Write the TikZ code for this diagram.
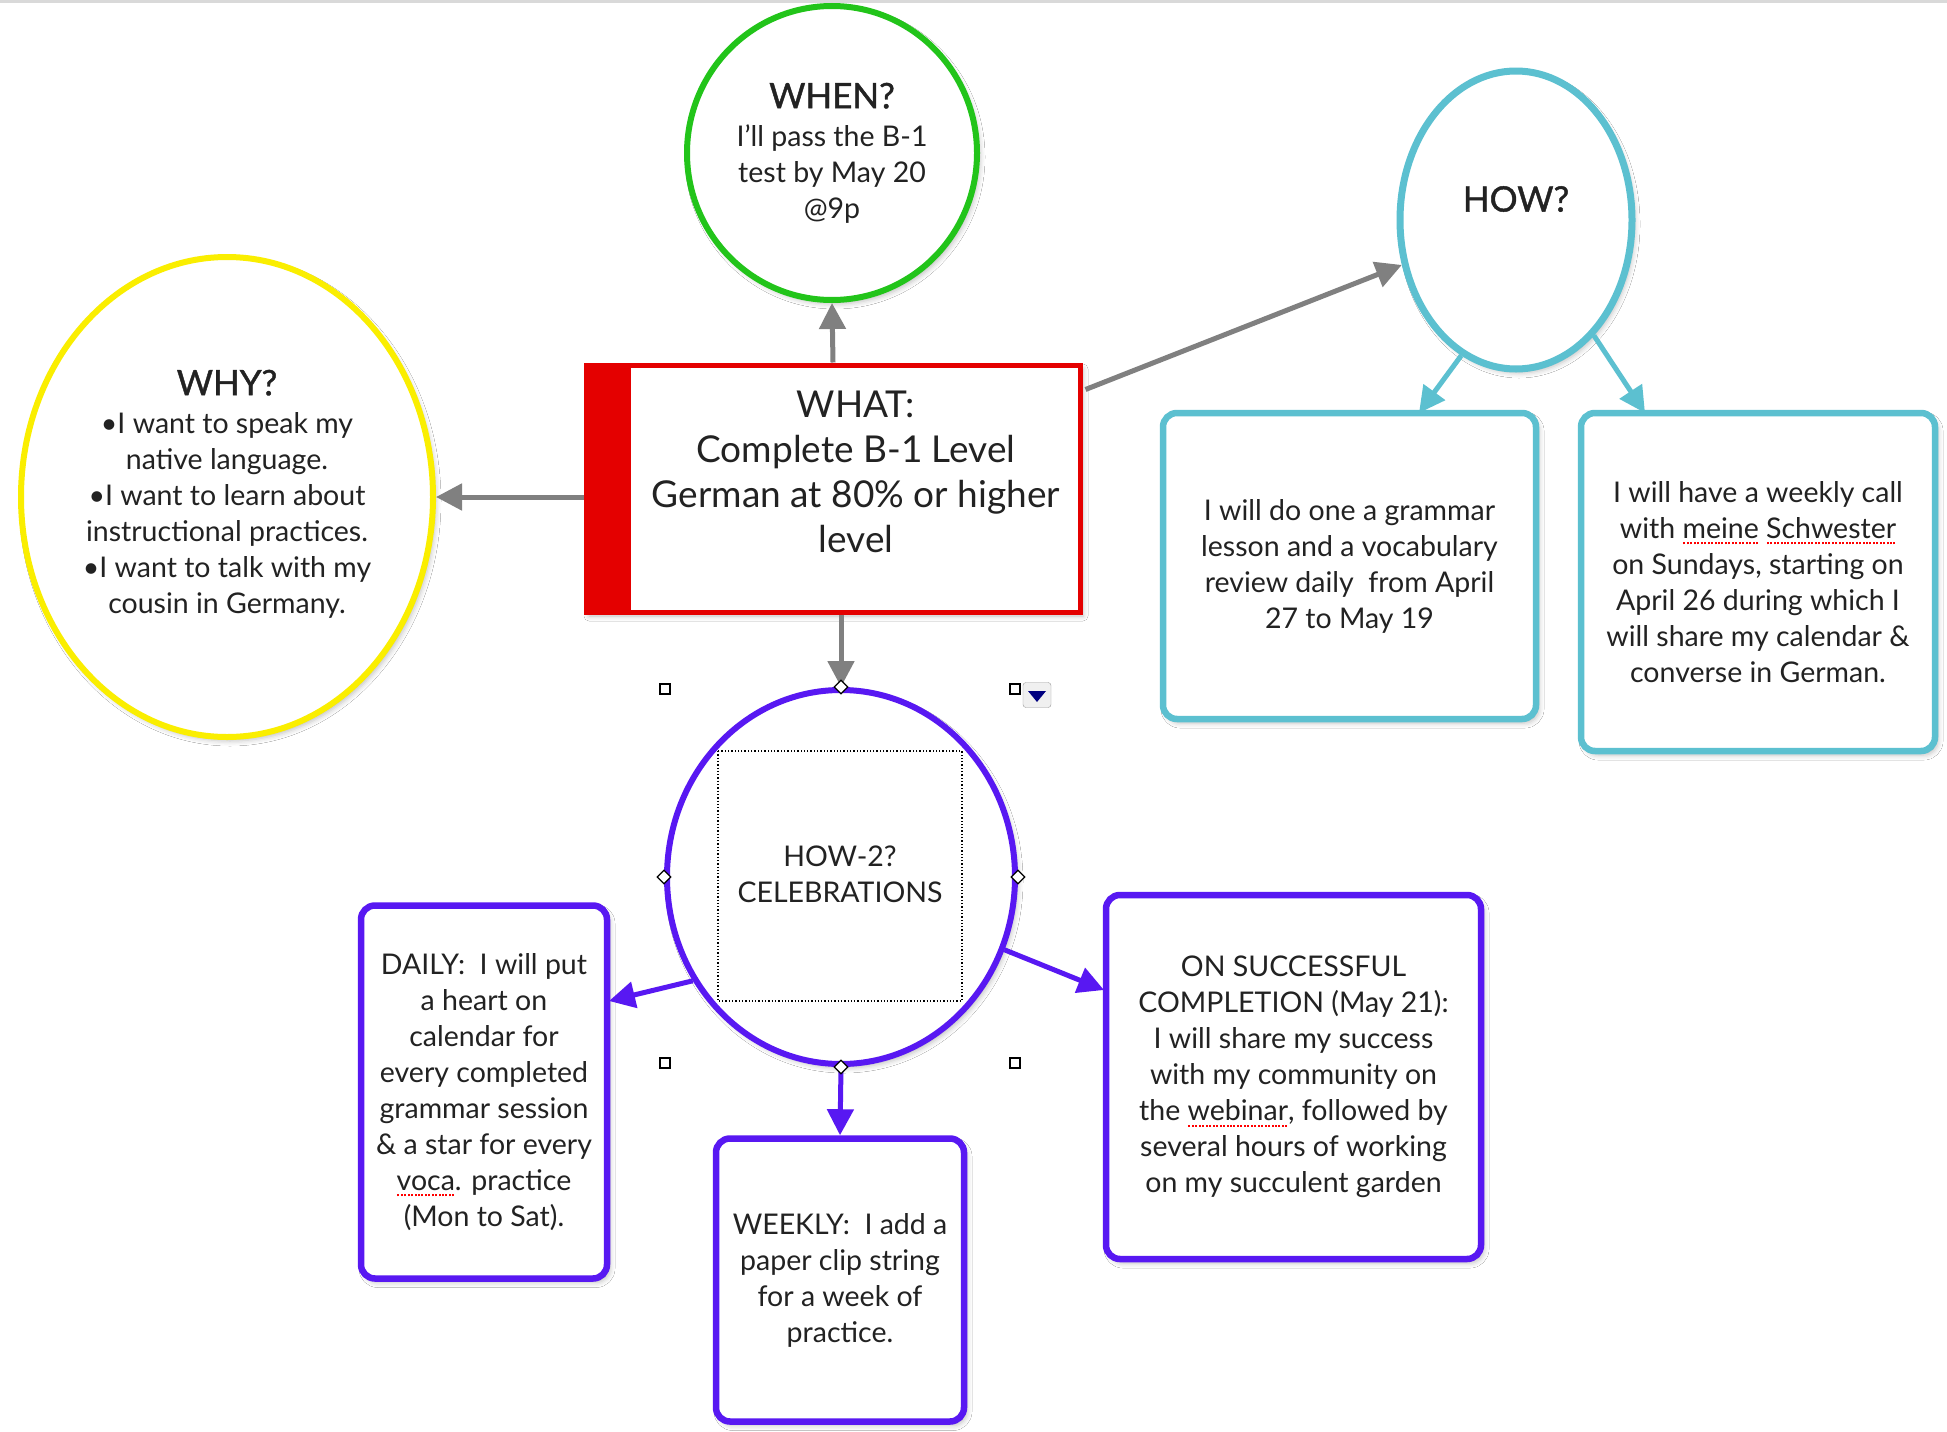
\documentclass[tikz,border=0pt]{standalone}
\usepackage{fontspec}
\setmainfont{Lato}
\newfontfamily\ttlfont{Lato}[FakeBold=1.2]
\usetikzlibrary{shapes.geometric,arrows.meta,shadows.blur,calc}
\definecolor{cgreen}{RGB}{34,196,26}
\definecolor{cyellow}{RGB}{250,238,0}
\definecolor{cred}{RGB}{228,0,0}
\definecolor{ccyan}{RGB}{92,192,208}
\definecolor{cblue}{RGB}{88,24,242}
\definecolor{cgrey}{RGB}{128,128,128}
\definecolor{ctext}{RGB}{34,34,34}
\newsavebox\spellbox
\newcommand\spellerr[1]{\sbox\spellbox{#1}\rlap{\textcolor{red}{\hbox to \wd\spellbox{\xleaders\hbox{\kern0.7pt\rule[-6pt]{2pt}{2pt}\kern0.7pt}\hfill}}}\usebox\spellbox}
\newcommand\ttl[1]{{\ttlfont\fontsize{35}{40}\selectfont #1}}
\tikzset{
  sh/.style={blur shadow={shadow xshift=3pt,shadow yshift=-4pt,shadow blur radius=5pt,shadow opacity=25}},
  bubble/.style={ellipse,fill=white,inner sep=0pt,line width=6pt,sh},
  rbox/.style={rectangle,rounded corners=14pt,fill=white,line width=6.5pt,sh,text=ctext,align=center,
    font=\fontsize{28.5}{36}\selectfont,inner sep=0pt},
  txt/.style={text=ctext,align=center,font=\fontsize{28.5}{36}\selectfont,inner sep=0pt},
  garrow/.style={draw=cgrey,line width=5pt,-{Triangle[length=26pt,width=26pt]}},
  carrow/.style={draw=ccyan,line width=5pt,-{Triangle[length=26pt,width=26pt]}},
  barrow/.style={draw=cblue,line width=5pt,-{Triangle[length=26pt,width=26pt]}},
  handle/.style={rectangle,draw=black,fill=white,line width=1.5pt,minimum size=10pt,inner sep=0pt},
  dia/.style={diamond,draw=black,fill=white,line width=1.2pt,minimum size=14pt,inner sep=0pt},
}
\begin{document}
\begin{tikzpicture}[x=1pt,y=-1pt]
\useasboundingbox (0,0) rectangle (1947,1432);
\fill[white] (0,0) rectangle (1947,1432);
\fill[black!15] (0,0) rectangle (1947,3);

% shapes
\node[bubble,draw=cgreen,minimum width=290pt,minimum height=294pt] (when) at (832,153) {};
\node[txt] (whent) at (832,153) {\ttl{WHEN?}\\[2pt] I'll pass the B-1\\ test by May 20\\ @9p};

\node[bubble,draw=cyellow,minimum width=412pt,minimum height=480pt] (why) at (227,497) {};
\node[txt] (whyt) at (227,494) {\ttl{WHY?}\\[2pt] •I want to speak my\\ native language.\\ •I want to learn about\\ instructional practices.\\ •I want to talk with my\\ cousin in Germany.};

\node[bubble,draw=ccyan,line width=7pt,minimum width=232pt,minimum height=298pt] (how) at (1516,220) {};
\node[txt] (howt) at (1516,199) {\ttl{HOW?}};

\node[rectangle,draw=cred,fill=white,line width=5pt,minimum width=494pt,minimum height=247pt,inner sep=0pt,sh] (what) at (833,488.5) {};
\fill[cred] (what.north west) rectangle ($(what.south west)+(47,0)$);
\node[txt,font=\fontsize{37}{45}\selectfont] (whatt) at (856,472) {WHAT:\\ Complete B-1 Level\\ German at 80\% or higher\\ level};

\node[rbox,draw=ccyan,minimum width=373pt,minimum height=306pt] (h1) at (1349.5,566) {I will do one a grammar\\ lesson and a vocabulary\\ review daily\ \ from April\\ 27 to May 19};
\node[rbox,draw=ccyan,minimum width=354pt,minimum height=338pt] (h2) at (1758,582) {I will have a weekly call\\ with \spellerr{meine} \spellerr{Schwester}\\ on Sundays, starting on\\ April 26 during which I\\ will share my calendar \&\\ converse in German.};

\node[bubble,draw=cblue,minimum width=348pt,minimum height=374pt] (hw2) at (841,877) {};
\draw[black,line width=1.3pt,dotted] (718,751) rectangle (962,1001);
\node[txt] (hw2t) at (840,874) {HOW-2?\\ CELEBRATIONS};

\node[rbox,draw=cblue,minimum width=246pt,minimum height=373pt] (daily) at (484,1092) {DAILY:\ \ I will put\\ a heart on\\ calendar for\\ every completed\\ grammar session\\ \& a star for every\\ \spellerr{voca}. practice\\ (Mon to Sat).};
\node[rbox,draw=cblue,minimum width=248pt,minimum height=283pt] (weekly) at (840,1280) {WEEKLY:\ \ I add a\\ paper clip string\\ for a week of\\ practice.};
\node[rbox,draw=cblue,minimum width=375pt,minimum height=364pt] (onsucc) at (1293.5,1077) {ON SUCCESSFUL\\ COMPLETION (May 21):\\ I will share my success\\ with my community on\\ the \spellerr{webinar}, followed by\\ several hours of working\\ on my succulent garden};

% connectors
\draw[garrow] (what.north) -- (when.south);
\draw[garrow] (what.west |- why.east) -- (why.east);
\draw[garrow] ($(what.north east)+(3,27)$) -- (how);
\draw[garrow] (hw2.north |- what.south) -- (hw2.north);
\coordinate (h1in) at (1419,413);
\coordinate (h2in) at (1645,413);
\draw[carrow] (how.248) -- (h1in);
\draw[carrow] (how.304) -- (h2in);
\coordinate (din) at (609,1001);
\coordinate (oin) at (1104,990);
\draw[barrow] (hw2.215) -- (din);
\draw[barrow] (hw2.south) -- (weekly.north);
\draw[barrow] (hw2.336) -- (oin);

% selection handles
\node[handle] (s1) at (665,689) {};
\node[handle] (s2) at (1015,689) {};
\node[handle] (s3) at (665,1063) {};
\node[handle] (s4) at (1015,1063) {};
\node[dia] (d1) at (hw2.north) {};
\node[dia] (d2) at (hw2.west) {};
\node[dia] (d3) at (hw2.east) {};
\node[dia] (d4) at (hw2.south) {};
\node[rectangle,rounded corners=3pt,draw=black!40,fill=black!6,minimum width=28pt,minimum height=25pt,inner sep=0pt] (btn) at (1037,695) {};
\fill[blue!50!black] ($(btn.center)+(-9,-4)$) -- ($(btn.center)+(9,-4)$) -- ($(btn.center)+(0,7)$) -- cycle;
\end{tikzpicture}
\end{document}
